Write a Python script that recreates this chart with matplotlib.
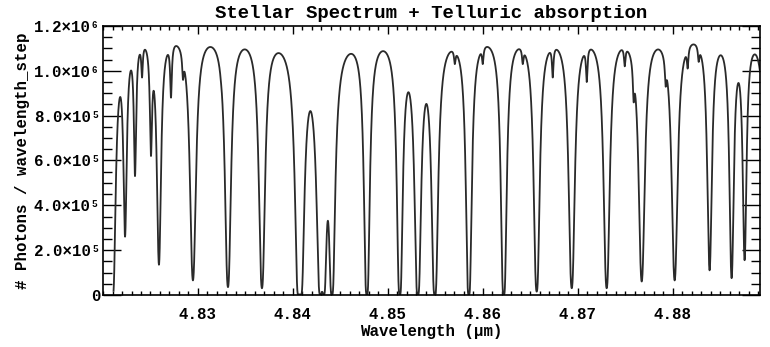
import numpy as np
import matplotlib.pyplot as plt
from matplotlib.ticker import MultipleLocator

# line list: centre (micron), lowest flux reached, width (micron)
line_center = np.array([4.82100, 4.82232, 4.82337, 4.82411, 4.82505, 4.82589, 4.82716,
                        4.82842, 4.82947, 4.83242, 4.83316, 4.83674, 4.84058, 4.84084,
                        4.84289, 4.84326, 4.84411, 4.84779, 4.85126, 4.85316, 4.85495,
                        4.85705, 4.85853, 4.86000, 4.86221, 4.86421, 4.86568, 4.86737,
                        4.86937, 4.87095, 4.87305, 4.87495, 4.87589, 4.87674, 4.87926,
                        4.88021, 4.88158, 4.88274, 4.88389, 4.88621, 4.88758, 4.89000])
line_min = np.array([0.0, 2.6e5, 5.3e5, 9.7e5, 6.2e5, 1.35e5, 8.8e5,
                     9.6e5, 6.5e4, 9.5e5, 3.5e4, 3.0e4, 0.0, 0.0,
                     0.0, 0.0, 0.0, 0.0, 0.0, 0.0, 0.0,
                     1.03e6, 0.0, 1.03e6, 0.0, 1.03e6, 1.5e4, 9.7e5,
                     3.0e4, 9.5e5, 3.0e4, 1.02e6, 8.6e5, 6.0e4, 9.3e5,
                     6.5e4, 1.01e6, 1.04e6, 1.1e5, 7.5e4, 1.55e5, 0.0])
line_width = np.array([1.3, 1.5, 1.2, 0.9, 1.2, 1.6, 1.0,
                       0.9, 2.0, 0.9, 1.8, 1.8, 1.3, 1.4,
                       1.5, 1.2, 1.3, 1.2, 1.2, 1.35, 1.35,
                       0.9, 1.2, 0.9, 1.2, 0.9, 1.6, 0.9,
                       1.8, 0.9, 1.8, 0.9, 0.9, 2.0, 0.9,
                       2.0, 0.9, 0.9, 1.7, 1.5, 1.5, 1.2]) * 1e-4

continuum = 1.2e6
floor = 1.0e3
wave = np.linspace(4.82111, 4.8892, 8000)

xticks = [4.83, 4.84, 4.85, 4.86, 4.87, 4.88]
xticklabels = ['4.83', '4.84', '4.85', '4.86', '4.87', '4.88']
yticks = [0, 2e5, 4e5, 6e5, 8e5, 1.0e6, 1.2e6]
yticklabels = ['0', '2.0×10⁵', '4.0×10⁵', '6.0×10⁵', '8.0×10⁵', '1.0×10⁶', '1.2×10⁶']


def lorentz(x, centre, width):
    return 1.0 / (1.0 + ((x - centre) / width) ** 2)


# optical depths chosen so each line bottoms out at its listed flux
M = lorentz(line_center[:, None], line_center[None, :], line_width[None, :])
target = np.log(continuum / np.maximum(line_min, floor))
strength = np.clip(np.linalg.solve(M, target), 0, None)
tau = lorentz(wave[:, None], line_center[None, :], line_width[None, :]) @ strength
flux = continuum * np.exp(-tau)

plt.rcParams['font.family'] = ['Liberation Mono', 'DejaVu Sans Mono']
plt.rcParams['font.weight'] = 'bold'

fig = plt.figure(figsize=(7.7, 3.47), dpi=100)
ax = fig.add_axes([0.1338, 0.1499, 0.8532, 0.7752])
ax.plot(wave, flux, color='#2a2a2a', lw=1.3)

ax.set_xlim(4.82, 4.8892)
ax.set_ylim(0, 1.2e6)
ax.set_xticks(xticks)
ax.set_xticklabels(xticklabels)
ax.set_yticks(yticks)
ax.set_yticklabels(yticklabels)
ax.xaxis.set_minor_locator(MultipleLocator(0.001))
ax.yaxis.set_minor_locator(MultipleLocator(5e4))

ax.tick_params(which='both', direction='in', top=True, right=True, width=1, labelsize=11.3)
ax.tick_params(axis='x', which='major', length=5.4, pad=9)
ax.tick_params(axis='x', which='minor', length=2.7)
ax.tick_params(axis='y', which='major', length=13, pad=2)
ax.tick_params(axis='y', which='minor', length=6.5)
for spine in ax.spines.values():
    spine.set_linewidth(1.2)

ax.set_title('Stellar Spectrum + Telluric absorption', fontsize=13.7, fontweight='bold', pad=6)
ax.set_xlabel('Wavelength (µm)', fontsize=11.3, fontweight='bold', labelpad=1)
ax.set_ylabel('# Photons / wavelength_step', fontsize=11.3, fontweight='bold', labelpad=3)

fig.savefig('out.png', dpi=100)
